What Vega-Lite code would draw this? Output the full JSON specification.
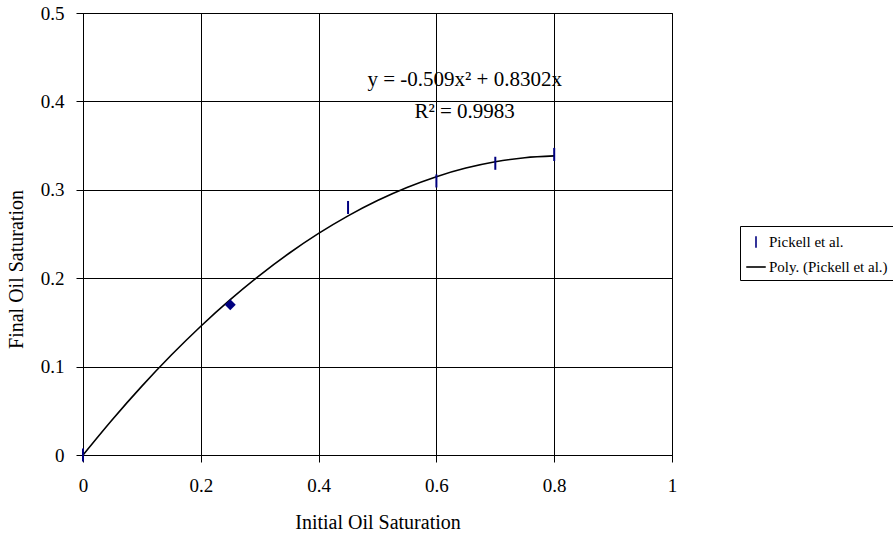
{
  "$schema": "https://vega.github.io/schema/vega-lite/v6.json",
  "autosize": "none",
  "width": 589,
  "height": 442,
  "padding": {"left": 83, "top": 13, "right": 221, "bottom": 84},
  "background": "white",
  "config": {
    "font": "Liberation Serif",
    "view": {"stroke": "black", "strokeWidth": 1},
    "axis": {
      "labelFont": "Liberation Serif",
      "titleFont": "Liberation Serif",
      "labelFontSize": 19,
      "titleFontSize": 20,
      "titleFontWeight": "normal",
      "labelColor": "black",
      "titleColor": "black",
      "domainColor": "black",
      "tickColor": "black",
      "gridColor": "black",
      "gridOpacity": 1,
      "gridWidth": 1,
      "tickSize": 7,
      "labelFlush": false,
      "format": "~g"
    }
  },
  "datasets": {
    "obs": [
      {"x": 0, "y": 0},
      {"x": 0.25, "y": 0.17},
      {"x": 0.45, "y": 0.28},
      {"x": 0.6, "y": 0.31},
      {"x": 0.7, "y": 0.33},
      {"x": 0.8, "y": 0.34}
    ],
    "fit": [
      {"x": 0, "y": 0},
      {"x": 0.05, "y": 0.04024},
      {"x": 0.1, "y": 0.07793},
      {"x": 0.15, "y": 0.11308},
      {"x": 0.2, "y": 0.14568},
      {"x": 0.25, "y": 0.17574},
      {"x": 0.3, "y": 0.20325},
      {"x": 0.35, "y": 0.22822},
      {"x": 0.4, "y": 0.25064},
      {"x": 0.45, "y": 0.27052},
      {"x": 0.5, "y": 0.28785},
      {"x": 0.55, "y": 0.30264},
      {"x": 0.6, "y": 0.31488},
      {"x": 0.65, "y": 0.32458},
      {"x": 0.7, "y": 0.33173},
      {"x": 0.75, "y": 0.33634},
      {"x": 0.8, "y": 0.3384}
    ],
    "notes": [
      {"x": 0.648, "y": 0.424, "label": "y = -0.509x² + 0.8302x"},
      {"x": 0.648, "y": 0.388, "label": "R² = 0.9983"}
    ],
    "leg": [
      {"series": "Pickell et al."},
      {"series": "Poly. (Pickell et al.)"}
    ]
  },
  "layer": [
    {
      "data": {"name": "fit"},
      "mark": {"type": "line", "color": "black", "strokeWidth": 1.6, "interpolate": "monotone"},
      "encoding": {
        "x": {"field": "x", "type": "quantitative", "scale": {"domain": [0, 1], "nice": false},
          "axis": {"values": [0, 0.2, 0.4, 0.6, 0.8, 1], "title": "Initial Oil Saturation", "titlePadding": 17, "labelPadding": 14, "grid": true}},
        "y": {"field": "y", "type": "quantitative", "scale": {"domain": [0, 0.5], "nice": false},
          "axis": {"values": [0, 0.1, 0.2, 0.3, 0.4, 0.5], "title": "Final Oil Saturation", "titlePadding": 14, "labelPadding": 12, "titleY": 256, "grid": true}}
      }
    },
    {
      "data": {"name": "obs"},
      "transform": [{"filter": "datum.x != 0.25"}],
      "mark": {"type": "point", "shape": "M0,-1L0,1", "filled": false, "color": "#000080", "strokeWidth": 2, "size": 170, "opacity": 1},
      "encoding": {
        "x": {"field": "x", "type": "quantitative"},
        "y": {"field": "y", "type": "quantitative"}
      }
    },
    {
      "data": {"name": "obs"},
      "transform": [{"filter": "datum.x == 0.25"}],
      "mark": {"type": "point", "shape": "diamond", "filled": true, "color": "#000080", "size": 120, "opacity": 1},
      "encoding": {
        "x": {"field": "x", "type": "quantitative"},
        "y": {"field": "y", "type": "quantitative"}
      }
    },
    {
      "data": {"name": "notes"},
      "mark": {"type": "text", "font": "Liberation Serif", "fontSize": 21, "color": "black", "align": "center", "baseline": "middle"},
      "encoding": {
        "x": {"field": "x", "type": "quantitative"},
        "y": {"field": "y", "type": "quantitative"},
        "text": {"field": "label"}
      }
    },
    {
      "data": {"name": "leg"},
      "mark": {"type": "point", "opacity": 0, "filled": false},
      "encoding": {
        "color": {"field": "series", "type": "nominal",
          "scale": {"domain": ["Pickell et al.", "Poly. (Pickell et al.)"], "range": ["#000080", "black"]},
          "legend": {
            "title": null,
            "orient": "none",
            "legendX": 657,
            "legendY": 213,
            "padding": 5,
            "strokeColor": "black",
            "fillColor": "white",
            "labelFont": "Liberation Serif",
            "labelFontSize": 15,
            "labelColor": "black",
            "rowPadding": 4,
            "symbolSize": 380,
            "symbolStrokeWidth": 1.6,
            "symbolOpacity": 1,
            "labelOffset": 2,
            "labelLimit": 300
          }
        },
        "shape": {"field": "series", "type": "nominal",
          "scale": {"domain": ["Pickell et al.", "Poly. (Pickell et al.)"], "range": ["M0,-0.6L0,0.6", "M-1,0L1,0"]}
        }
      }
    }
  ]
}
